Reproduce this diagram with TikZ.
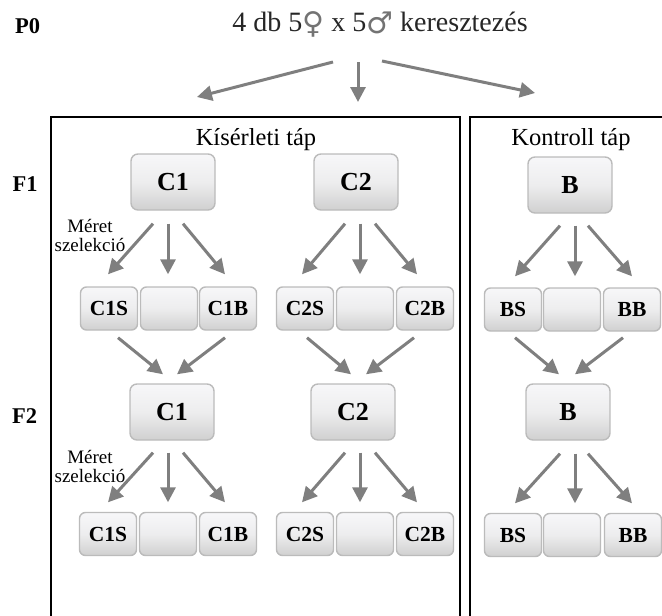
\documentclass[tikz,border=0pt]{standalone}
\usepackage{fontspec}
\setmainfont{Liberation Serif}
\newfontfamily\symfont{DejaVu Sans}
\usetikzlibrary{arrows.meta,calc}
\definecolor{arrowgray}{HTML}{7F7F7F}
\definecolor{boxtop}{HTML}{F7F7F9}
\definecolor{boxmid}{HTML}{EDEDEE}
\definecolor{boxbot}{HTML}{D0D0D0}
\definecolor{boxline}{HTML}{BBBBBB}
\newcommand{\gsym}[1]{\raisebox{-2.5pt}{\symfont\fontsize{30}{32}\selectfont\color{black!55}#1}}
\begin{document}
\begin{tikzpicture}[x=1pt,y=-1pt,
  boxbase/.style={draw=boxline, line width=1.4pt, top color=boxtop, bottom color=boxbot, middle color=boxmid, inner sep=0pt},
  bigbox/.style={boxbase, rounded corners=7pt, minimum width=84pt, minimum height=56pt, font=\fontsize{26}{30}\selectfont\bfseries},
  smallbox/.style={boxbase, rounded corners=6pt, minimum width=57pt, minimum height=43pt, font=\fontsize{21.5}{25}\selectfont\bfseries},
  arr/.style={draw=arrowgray, line width=3pt, -{Triangle[length=15pt,width=15pt]}},
  gen/.style={font=\fontsize{22.5}{26}\selectfont\bfseries, anchor=base},
  sel/.style={font=\fontsize{19}{19}\selectfont, align=center, inner sep=0pt},
  hdr/.style={font=\fontsize{24.5}{28}\selectfont, anchor=base},
  frame/.style={draw=black, line width=1.6pt}]
\useasboundingbox (0,0) rectangle (662,616);

% generation labels
\node[gen] (p0) at (27.5,33) {P0};
\node[gen] (f1) at (25,191.5) {F1};
\node[gen] (f2) at (24.5,423) {F2};

% title
\node[font=\fontsize{28}{32}\selectfont, text=black!85, anchor=base] (title) at (380,31) {4 db 5\gsym{♀} x 5\gsym{♂} keresztezés};
\coordinate (tl) at (197,97);
\coordinate (tm) at (358,102);
\coordinate (tr) at (535,93);
\draw[arr] ($(title.base)+(-47,31)$) -- (tl);
\draw[arr] ($(title.base)+(-22,31)$) -- (tm);
\draw[arr] ($(title.base)+(2,30)$) -- (tr);

% frames
\draw[frame] (51,630) -- (51,117) -- (460,117) -- (460,630);
\draw[frame] (470,630) -- (470,117) -- (680,117);
\node[hdr] (kis) at (256,145) {Kísérleti táp};
\node[hdr] (kon) at (571,145) {Kontroll táp};

% F1 big nodes
\node[bigbox] (C1a) at (173,182) {C1};
\node[bigbox] (C2a) at (356,182) {C2};
\node[bigbox] (Ba) at (570,185) {B};

% F1 small row
\node[smallbox] (C1S) at (109,308.5) {C1S};
\node[smallbox] (C1M) at (169,308.5) {};
\node[smallbox] (C1B) at (228,308.5) {C1B};
\node[smallbox] (C2S) at (305,308.5) {C2S};
\node[smallbox] (C2M) at (365,308.5) {};
\node[smallbox] (C2B) at (425,308.5) {C2B};
\node[smallbox] (BS) at (513,309.5) {BS};
\node[smallbox] (BM) at (572,309.5) {};
\node[smallbox] (BB) at (632,309.5) {BB};

% F2 big nodes
\node[bigbox] (C1b) at (172,412) {C1};
\node[bigbox] (C2b) at (353,412) {C2};
\node[bigbox] (Bb) at (568,412) {B};

% F2 small row
\node[smallbox] (C1S2) at (108,534) {C1S};
\node[smallbox] (C1M2) at (168,534) {};
\node[smallbox] (C1B2) at (228,534) {C1B};
\node[smallbox] (C2S2) at (305,534) {C2S};
\node[smallbox] (C2M2) at (365,534) {};
\node[smallbox] (C2B2) at (425,534) {C2B};
\node[smallbox] (BS2) at (513,535) {BS};
\node[smallbox] (BM2) at (572,535) {};
\node[smallbox] (BB2) at (633,535) {BB};

% selection labels
\node[sel] (sel1) at (90,235) {Méret\\szelekció};
\node[sel] (sel2) at (90,466) {Méret\\szelekció};

% F1 fans
\draw[arr] ($(C1a.south)+(-20,13)$) -- ($(C1S.north)+(-1,-12)$);
\draw[arr] ($(C1a.south)+(-5,13)$) -- ($(C1M.north)+(-1,-12)$);
\draw[arr] ($(C1a.south)+(10,13)$) -- ($(C1B.north)+(-3,-12)$);
\draw[arr] ($(C2a.south)+(-11,13)$) -- ($(C2S.north)+(-3,-12)$);
\draw[arr] ($(C2a.south)+(4,13)$) -- ($(C2M.north)+(-5,-12)$);
\draw[arr] ($(C2a.south)+(19,13)$) -- ($(C2B.north)+(-8,-12)$);
\draw[arr] ($(Ba.south)+(-10,12)$) -- ($(BS.north)+(2,-11)$);
\draw[arr] ($(Ba.south)+(5,12)$) -- ($(BM.north)+(3,-11)$);
\draw[arr] ($(Ba.south)+(18,12)$) -- ($(BB.north)+(0,-11)$);

% converging arrows
\draw[arr] ($(C1S.south)+(9,7)$) -- ($(C1b.north)+(-9,-9)$);
\draw[arr] ($(C1B.south)+(-3,7)$) -- ($(C1b.north)+(5,-9)$);
\draw[arr] ($(C2S.south)+(2,7)$) -- ($(C2b.north)+(-2,-9)$);
\draw[arr] ($(C2B.south)+(-11,7)$) -- ($(C2b.north)+(13,-9)$);
\draw[arr] ($(BS.south)+(2,6)$) -- ($(Bb.north)+(-9,-9)$);
\draw[arr] ($(BB.south)+(-9,6)$) -- ($(Bb.north)+(7,-9)$);

% F2 fans
\draw[arr] ($(C1b.south)+(-19,12)$) -- ($(C1S2.north)+(0,-9.5)$);
\draw[arr] ($(C1b.south)+(-4,12)$) -- ($(C1M2.north)+(0,-9.5)$);
\draw[arr] ($(C1b.south)+(11,12)$) -- ($(C1B2.north)+(-3,-9.5)$);
\draw[arr] ($(C2b.south)+(-8,12)$) -- ($(C2S2.north)+(-3,-9.5)$);
\draw[arr] ($(C2b.south)+(7,12)$) -- ($(C2M2.north)+(-5,-9.5)$);
\draw[arr] ($(C2b.south)+(22,12)$) -- ($(C2B2.north)+(-8,-9.5)$);
\draw[arr] ($(Bb.south)+(-8,13)$) -- ($(BS2.north)+(2,-9.5)$);
\draw[arr] ($(Bb.south)+(7,13)$) -- ($(BM2.north)+(3,-9.5)$);
\draw[arr] ($(Bb.south)+(20,13)$) -- ($(BB2.north)+(-1,-9.5)$);
\end{tikzpicture}
\end{document}
